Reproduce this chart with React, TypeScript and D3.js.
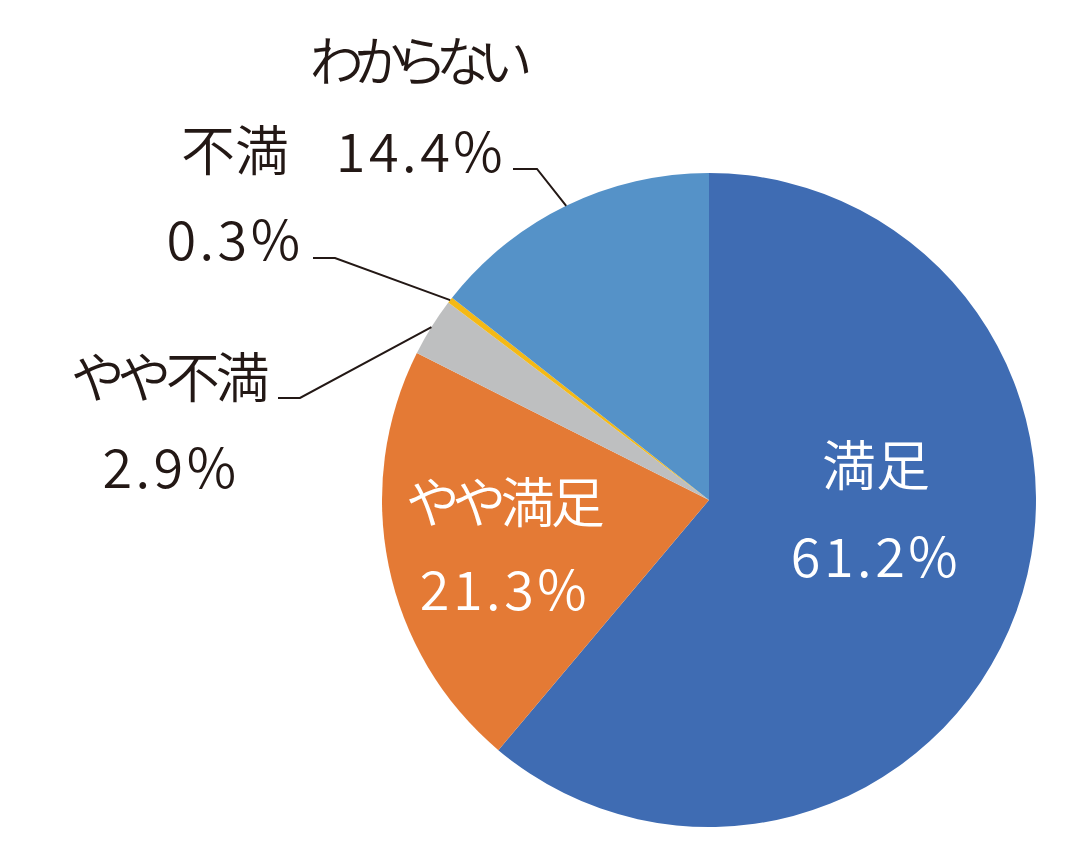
import React from "react";
import * as d3 from "d3";

const categories = ["満足", "やや満足", "やや不満", "不満", "わからない"];
const values = [61.2, 21.3, 2.9, 0.3, 14.4];
const valueLabels = ["61.2%", "21.3%", "2.9%", "0.3%", "14.4%"];
const colors = ["#3F6CB3", "#E47A35", "#BEBFC0", "#F4B916", "#5592C8"];

const W = 1090;
const H = 866;
const cx = 709;
const cy = 500;
const R = 327;
const FONT = "'Noto Sans CJK JP', 'Noto Sans', sans-serif";
const FS = 54;
const TEXT = "#231815";

type Lay = { nx: number; ny: number; ls: number; vx: number; vy: number; fill: string; leader?: { x0: number; x1: number; y: number } };
const layout: Lay[] = [
  { nx: 876, ny: 486, ls: 0, vx: 876, vy: 577, fill: "#FFFFFF" },
  { nx: 506, ny: 523, ls: -4, vx: 505, vy: 610, fill: "#FFFFFF" },
  { nx: 171, ny: 398, ls: -4, vx: 171, vy: 488, fill: TEXT, leader: { x0: 278, x1: 300, y: 398 } },
  { nx: 235, ny: 171, ls: 0, vx: 235, vy: 260, fill: TEXT, leader: { x0: 313, x1: 335, y: 258 } },
  { nx: 420, ny: 82, ls: -9, vx: 421, vy: 172, fill: TEXT, leader: { x0: 513, x1: 537, y: 169 } },
];

export default function App() {
  const pie = d3.pie<number>().sort(null).value((d) => d)(values);
  const arc = d3.arc<d3.PieArcDatum<number>>().innerRadius(0).outerRadius(R);
  return (
    <svg width={W} height={H} style={{ position: "absolute", left: 0, top: 0, background: "#fff" }}>
      <rect width={W} height={H} fill="#fff" />
      <g transform={`translate(${cx},${cy})`}>
        {pie.map((p, i) => (
          <path key={i} d={arc(p) || ""} fill={colors[i]} />
        ))}
      </g>
      {pie.map((p, i) => {
        const L = layout[i];
        if (!L.leader) return null;
        const mid = (p.startAngle + p.endAngle) / 2;
        const ex = cx + R * Math.sin(mid);
        const ey = cy - R * Math.cos(mid);
        return (
          <polyline
            key={"l" + i}
            points={`${L.leader.x0},${L.leader.y} ${L.leader.x1},${L.leader.y} ${ex},${ey}`}
            fill="none"
            stroke={TEXT}
            strokeWidth={2}
          />
        );
      })}
      {categories.map((c, i) => {
        const L = layout[i];
        return (
          <g key={"t" + i} fontFamily={FONT} fontSize={FS} fontWeight={350} fill={L.fill} textAnchor="middle">
            <text x={L.nx + L.ls / 2} y={L.ny} letterSpacing={L.ls} style={{ fontFeatureSettings: "'palt'" }}>{c}</text>
            <text x={L.vx} y={L.vy} letterSpacing={3.5}>{valueLabels[i]}</text>
          </g>
        );
      })}
    </svg>
  );
}
